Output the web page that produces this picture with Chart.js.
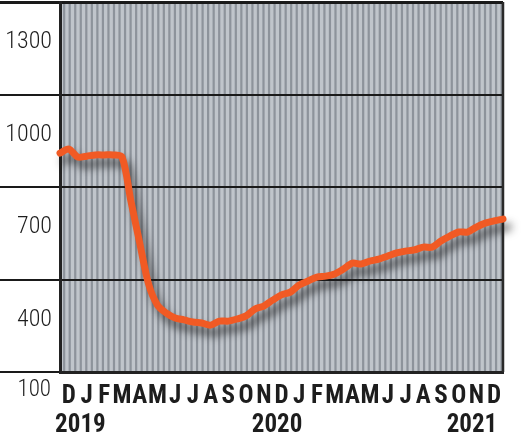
<!DOCTYPE html>
<html>
<head>
<meta charset="utf-8">
<script src="https://cdn.jsdelivr.net/npm/chart.js@4/dist/chart.umd.min.js"></script>
<style>
  body { margin: 0; background: #fff; }
  #wrap { width: 525px; height: 437px; position: relative; }
</style>
</head>
<body>
<div id="wrap"><canvas id="trafficChart"></canvas></div>
<script>
// Month letters along the bottom (Dec 2019 .. Dec 2021)
var monthLetters = ['D','J','F','M','A','M','J','J','A','S','O','N','D',
                    'J','F','M','A','M','J','J','A','S','O','N','D'];
var yearLabels = ['2019', '2020', '2021'];
var yearSpots = [1.15, 12.25, 23.25];
// Series: position in months from start
var monthPos = [0, 0.5, 1, 1.5, 2, 2.5, 3, 3.5, 4, 4.5, 5, 5.5, 6, 6.5, 7, 7.5, 8, 8.5, 9, 9.5,
                10, 10.5, 11, 11.5, 12, 12.5, 13, 13.5, 14, 14.5, 15, 15.5, 16, 16.5, 17, 17.5,
                18, 18.5, 19, 19.5, 20, 20.5, 21, 21.5, 22, 22.5, 23, 23.5, 24, 24.5, 25];
var values = [960, 973, 947, 950, 954, 954, 954, 947, 805, 668, 535, 467, 441, 425, 419, 412, 409,
              402, 415, 415, 422, 432, 454, 464, 483, 500, 509, 532, 545, 558, 561, 568, 584, 603,
              600, 610, 616, 626, 636, 642, 646, 655, 655, 675, 691, 704, 704, 720, 733, 740, 746];
// Y axis: where the rules go and which values carry a label
var gridValues = [250, 550, 850, 1150, 1450];
var tickLabels = [400, 700, 1000, 1300];
var lowLabel = '100';

var labelFont = "'Roboto Condensed', 'Open Sans Condensed', 'DejaVu Sans Condensed', sans-serif";

// striped grey plot background
var stripes = {
    id: 'stripes',
    beforeDraw: function(chart) {
        var a = chart.chartArea, ctx = chart.ctx;
        var n = 80, step = (a.right - a.left) / n;
        ctx.save();
        ctx.fillStyle = '#c0c5cb';
        ctx.fillRect(a.left, a.top, a.right - a.left, a.bottom - a.top);
        ctx.fillStyle = '#8d939b';
        for (var i = 0; i < n; i++) {
            ctx.fillRect(a.left + i * step + step * 0.55, a.top, step * 0.4, a.bottom - a.top);
        }
        ctx.restore();
    },
    beforeDatasetsDraw: function(chart) {
        // right frame edge, then shadow for the line
        var a = chart.chartArea, ctx = chart.ctx;
        ctx.save();
        ctx.strokeStyle = '#2a2a2a';
        ctx.lineWidth = 2.5;
        ctx.beginPath();
        ctx.moveTo(a.right, a.top);
        ctx.lineTo(a.right, a.bottom);
        ctx.stroke();
        ctx.restore();
        ctx.save();
        ctx.shadowColor = 'rgba(30,30,30,0.65)';
        ctx.shadowBlur = 9;
        ctx.shadowOffsetX = 5;
        ctx.shadowOffsetY = 8;
    },
    afterDatasetsDraw: function(chart) {
        chart.ctx.restore();
    },
    afterDraw: function(chart) {
        // the lone "100" sits on the month row
        var ctx = chart.ctx, xs = chart.scales.x, ys = chart.scales.y;
        ctx.save();
        ctx.font = '300 23px ' + labelFont;
        ctx.fillStyle = '#1d1d1d';
        ctx.textAlign = 'right';
        ctx.textBaseline = 'middle';
        ctx.fillText(lowLabel, ys.right - 9, xs.top + 18);
        ctx.restore();
    }
};

var points = monthPos.map(function(m, i) { return {x: m, y: values[i]}; });

new Chart(document.getElementById('trafficChart'), {
    type: 'line',
    data: {
        datasets: [{
            data: points,
            borderColor: '#f15a24',
            borderWidth: 7,
            borderCapStyle: 'round',
            borderJoinStyle: 'round',
            pointRadius: 0,
            tension: 0.3,
            clip: false
        }]
    },
    plugins: [stripes],
    options: {
        responsive: true,
        maintainAspectRatio: false,
        animation: false,
        layout: { padding: { top: 2, right: 22, left: 0, bottom: 0 } },
        plugins: { legend: { display: false }, tooltip: { enabled: false } },
        scales: {
            x: {
                type: 'linear',
                position: 'bottom',
                min: 0,
                max: 25,
                afterBuildTicks: function(scale) {
                    scale.ticks = monthLetters.map(function(l, i) { return {value: i + 0.5}; });
                },
                afterFit: function(scale) { scale.height = 31; },
                grid: { display: false },
                border: { display: true, color: '#222', width: 3 },
                ticks: {
                    autoSkip: false,
                    maxRotation: 0,
                    padding: 2,
                    color: '#1d1d1d',
                    font: { family: labelFont, size: 25, weight: 'bold' },
                    callback: function(v, i) { return monthLetters[i]; }
                }
            },
            x2: {
                type: 'linear',
                position: 'bottom',
                min: 0,
                max: 25,
                afterBuildTicks: function(scale) {
                    scale.ticks = yearSpots.map(function(p) { return {value: p}; });
                },
                afterFit: function(scale) { scale.height = 34; },
                grid: { display: false },
                border: { display: false },
                ticks: {
                    autoSkip: false,
                    maxRotation: 0,
                    padding: 0,
                    color: '#1d1d1d',
                    font: { family: labelFont, size: 25, weight: 'bold' },
                    callback: function(v, i) { return yearLabels[i]; }
                }
            },
            y: {
                min: 250,
                max: 1450,
                afterBuildTicks: function(scale) {
                    var t = [];
                    for (var v = 250; v <= 1450; v += 150) t.push({value: v});
                    scale.ticks = t;
                },
                afterFit: function(scale) { scale.width = 60; },
                grid: {
                    drawTicks: true,
                    tickLength: 60,
                    color: function(ctx) {
                        return gridValues.indexOf(ctx.tick.value) >= 0 ? '#1a1a1a' : 'rgba(0,0,0,0)';
                    },
                    lineWidth: function(ctx) {
                        return ctx.tick.value === 1450 ? 3 : 2;
                    }
                },
                border: { display: true, color: '#222', width: 3 },
                ticks: {
                    padding: -52,
                    labelOffset: -6,
                    color: '#1d1d1d',
                    font: { family: labelFont, size: 24, weight: '300' },
                    callback: function(v) { return tickLabels.indexOf(v) >= 0 ? String(v) : ''; }
                }
            }
        }
    }
});
</script>
</body>
</html>
